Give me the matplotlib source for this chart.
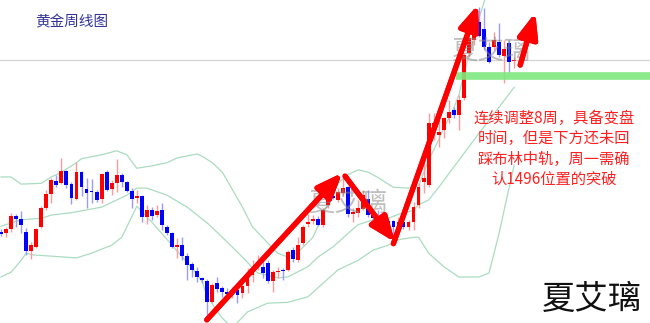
import matplotlib
matplotlib.use('Agg')
import matplotlib.pyplot as plt
import matplotlib.patheffects as pe
from matplotlib.patches import FancyArrowPatch
import numpy as np

plt.rcParams['font.family'] = ['Noto Sans CJK SC', 'DejaVu Sans']

# Weekly gold candles (price), oldest first
opens = [1271, 1269, 1274, 1291, 1287, 1271, 1247, 1252, 1277, 1301,
         1319, 1335, 1332, 1348, 1331, 1312, 1346, 1325, 1322, 1321,
         1312, 1346, 1325, 1332, 1343, 1334, 1322, 1314, 1316, 1290,
         1298, 1292, 1298, 1277, 1269, 1252, 1254, 1240, 1230, 1221,
         1213, 1209, 1182, 1206, 1200, 1194, 1191, 1198, 1194, 1203,
         1216, 1225, 1227, 1232, 1209, 1220, 1223, 1223, 1248, 1235,
         1257, 1281, 1285, 1287, 1280, 1305, 1315, 1311, 1320, 1327,
         1293, 1295, 1300, 1312, 1296, 1290, 1290, 1285, 1285, 1278,
         1283, 1277, 1283, 1305, 1334, 1330, 1402, 1393, 1399, 1414,
         1424, 1418, 1440, 1496, 1513, 1535, 1526, 1504, 1504, 1510,
         1492, 1509, 1486]
highs = [1274, 1277, 1295, 1293, 1297, 1276, 1258, 1276, 1303, 1324,
         1339, 1343, 1364, 1349, 1334, 1359, 1348, 1339, 1337, 1324,
         1345, 1349, 1336, 1363, 1345, 1335, 1326, 1324, 1317, 1305,
         1302, 1305, 1307, 1280, 1271, 1263, 1264, 1244, 1233, 1227,
         1214, 1211, 1206, 1214, 1203, 1200, 1201, 1200, 1208, 1225,
         1235, 1242, 1238, 1235, 1223, 1227, 1225, 1248, 1252, 1264,
         1280, 1293, 1292, 1291, 1301, 1320, 1320, 1326, 1345, 1329,
         1301, 1311, 1324, 1324, 1298, 1298, 1292, 1288, 1286, 1290,
         1288, 1286, 1309, 1332, 1361, 1420, 1421, 1416, 1416, 1437,
         1428, 1443, 1496, 1521, 1532, 1554, 1553, 1510, 1523, 1534,
         1513, 1513, 1491]
lows = [1266, 1264, 1271, 1277, 1269, 1242, 1237, 1250, 1276, 1298,
        1307, 1327, 1331, 1326, 1306, 1311, 1316, 1301, 1307, 1309,
        1307, 1322, 1317, 1321, 1327, 1321, 1301, 1307, 1283, 1281,
        1286, 1290, 1273, 1267, 1250, 1238, 1235, 1210, 1214, 1208,
        1206, 1162, 1181, 1195, 1189, 1189, 1187, 1181, 1187, 1194,
        1208, 1223, 1213, 1206, 1195, 1213, 1210, 1221, 1233, 1233,
        1254, 1277, 1281, 1278, 1277, 1301, 1312, 1309, 1317, 1290,
        1283, 1290, 1298, 1290, 1283, 1282, 1273, 1269, 1267, 1276,
        1274, 1273, 1273, 1301, 1320, 1327, 1387, 1378, 1389, 1408,
        1414, 1399, 1437, 1491, 1506, 1516, 1500, 1484, 1500, 1491,
        1458, 1472, 1477]
closes = [1268, 1274, 1291, 1287, 1280, 1247, 1254, 1274, 1301, 1319,
          1336, 1330, 1348, 1330, 1314, 1346, 1327, 1320, 1321, 1311,
          1344, 1324, 1332, 1343, 1334, 1322, 1312, 1316, 1290, 1298,
          1291, 1297, 1280, 1269, 1252, 1254, 1240, 1229, 1223, 1214,
          1210, 1182, 1204, 1199, 1195, 1193, 1198, 1191, 1203, 1216,
          1225, 1233, 1219, 1209, 1220, 1221, 1221, 1245, 1237, 1254,
          1277, 1283, 1287, 1280, 1298, 1314, 1314, 1321, 1326, 1293,
          1296, 1301, 1317, 1292, 1288, 1285, 1277, 1277, 1277, 1283,
          1277, 1283, 1302, 1327, 1339, 1408, 1408, 1397, 1414, 1422,
          1418, 1437, 1494, 1515, 1528, 1518, 1504, 1485, 1513, 1494,
          1501, 1485, 1487]

# Bollinger bands (week index, price)
upper_idx = [0, 2, 4, 8, 10, 12, 15, 16, 20, 23, 25, 27, 30, 33, 35, 39, 40, 42, 44, 46,
             48, 50, 53, 55, 57, 59, 62, 65, 67, 69, 71, 73, 75, 78, 81, 83, 85, 86, 87, 88,
             89, 90, 91, 92, 93, 94, 95, 96, 97]
upper_val = [1340, 1340, 1331, 1332, 1340, 1346, 1358, 1363, 1368, 1373, 1368, 1351, 1354, 1358,
             1364, 1369, 1366, 1358, 1346, 1324, 1302, 1277, 1257, 1244, 1239, 1245, 1264, 1307,
             1332, 1343, 1349, 1346, 1339, 1327, 1326, 1329, 1361, 1374, 1387, 1402, 1414, 1427,
             1443, 1469, 1494, 1515, 1540, 1560, 1578]
mid_idx = [0, 2, 4, 8, 10, 14, 20, 25, 27, 29, 33, 37, 41, 44, 48, 51, 55, 57, 61, 63,
           66, 69, 71, 74, 77, 79, 82, 83, 85, 87, 91, 95, 99, 102]
mid_val = [1278, 1282, 1286, 1288, 1292, 1295, 1302, 1317, 1326, 1326, 1317, 1302, 1282, 1264,
           1239, 1219, 1213, 1214, 1227, 1239, 1252, 1269, 1280, 1286, 1288, 1293, 1298, 1305,
           1311, 1327, 1361, 1395, 1428, 1453]
low_idx = [0, 2, 4, 5, 6, 15, 18, 22, 24, 26, 27, 30, 34, 38, 40, 41, 44, 46, 49, 53,
           57, 61, 64, 67, 71, 74, 77, 79, 82, 83, 85, 88, 91, 95, 97, 99, 101, 102]
low_val = [1214, 1220, 1235, 1244, 1242, 1238, 1244, 1254, 1264, 1290, 1303, 1283, 1254, 1225,
           1208, 1189, 1162, 1150, 1170, 1181, 1182, 1189, 1206, 1223, 1235, 1248, 1254, 1261,
           1264, 1264, 1244, 1227, 1214, 1214, 1219, 1269, 1327, 1355]

support_level = 1467
support_start = 90.5

# hand-drawn arrows: (tail, tip) in (week index, price)
arrows = [((40.9, 1160), (67.8, 1345)),
          ((68.4, 1341), (78.3, 1258)),
          ((78.0, 1256), (94.8, 1557)),
          ((103.2, 1481), (106.2, 1547))]

note = "连续调整8周，具备变盘\n时间，但是下方还未回\n踩布林中轨，周一需确\n认1496位置的突破"

opens, highs, lows, closes = map(np.array, (opens, highs, lows, closes))
idx = np.arange(len(closes))
up = closes >= opens

fig = plt.figure(figsize=(6.5, 3.23), dpi=100)
ax = fig.add_axes([0, 0, 1, 1])
ax.set_xlim(-0.2, 129)
ax.set_ylim(1156, 1563)
ax.axis('off')

band_color = '#aadcc0'
ax.plot(upper_idx, upper_val, color=band_color, lw=0.9, zorder=1)
ax.plot(mid_idx, mid_val, color=band_color, lw=0.9, zorder=1)
ax.plot(low_idx, low_val, color=band_color, lw=0.9, zorder=1)

# last price line
ax.axhline(closes[-1], color='#d4d4d4', lw=0.9, zorder=1)

# candles
wick_colors = np.where(up, '#ff9a9a', '#9a9aff')
body_colors = np.where(up, '#ff0000', '#0000ff')
ax.vlines(idx, lows, highs, colors=wick_colors, lw=1, zorder=2)
body_bottom = np.minimum(opens, closes)
body_height = np.maximum(np.abs(closes - opens), 1.5)
ax.bar(idx, body_height, bottom=body_bottom, width=0.76, color=body_colors,
       linewidth=0, zorder=3)

# support zone
ax.hlines(support_level, support_start, 129, color='#7ee87e', lw=5.5, alpha=0.9, zorder=4)

# watermarks
for xy in [(0.535, 0.372), (0.754, 0.842)]:
    ax.text(xy[0], xy[1], '夏艾璃', transform=ax.transAxes, ha='center', va='center',
            fontsize=19, color='#8c8c8c', alpha=0.55, zorder=5)

for tail, tip in arrows:
    arr = FancyArrowPatch(tail, tip, arrowstyle='-|>,head_length=1.5,head_width=0.6',
                          mutation_scale=10, lw=3.8, color='#ff0000', zorder=6,
                          shrinkA=0, shrinkB=0,
                          path_effects=[pe.withSimplePatchShadow(offset=(1.5, -1.5),
                                                                 shadow_rgbFace='#333333',
                                                                 alpha=0.6), pe.Normal()])
    ax.add_patch(arr)

ax.text(0.111, 0.932, '黄金周线图', transform=ax.transAxes, ha='center', va='center',
        fontsize=10.5, color='#333399')
ax.text(0.852, 0.539, note, transform=ax.transAxes, ha='center', va='center',
        fontsize=11, color='#ff2020', linespacing=1.25, zorder=7)
ax.text(0.911, 0.074, '夏艾璃', transform=ax.transAxes, ha='center', va='center',
        fontsize=24, color='#111111', fontweight='light')

fig.savefig('out.png', dpi=100)
